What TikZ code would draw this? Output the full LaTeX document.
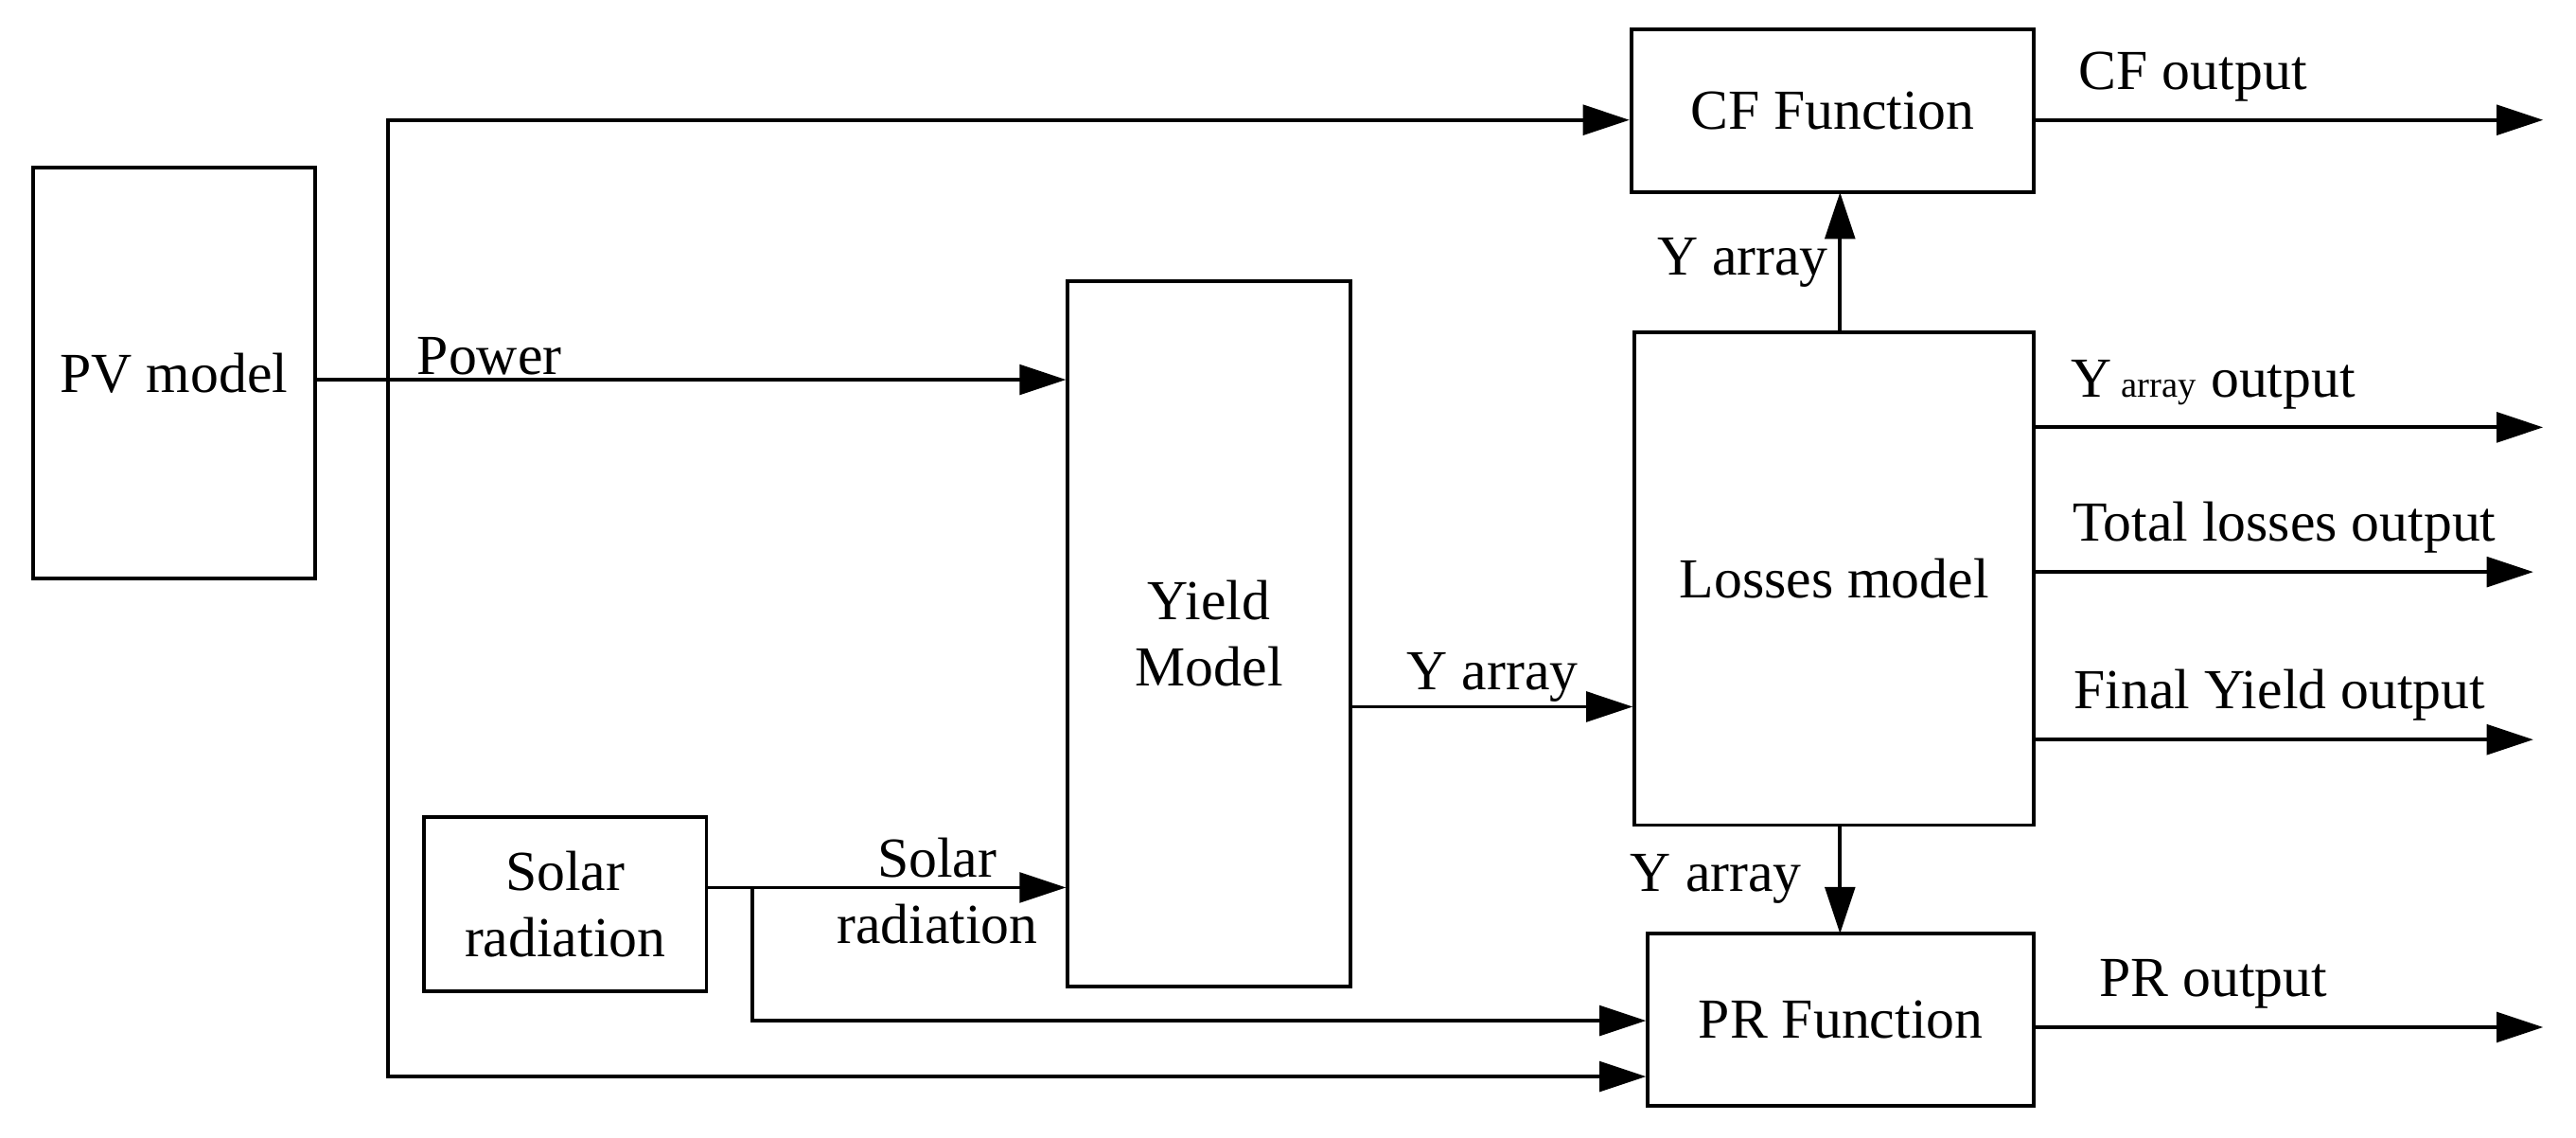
\documentclass[tikz,border=0pt]{standalone}
\usepackage{fontspec}
\setmainfont{Liberation Serif}
\usetikzlibrary{arrows.meta,positioning}

\begin{document}
\begin{tikzpicture}[x=0.01736cm, y=-0.01736cm, font=\fontsize{17}{20}\selectfont]
  \tikzstyle{block} = [rectangle, draw, line width=1.1pt, inner sep=0pt, text centered, align=center]
  \tikzstyle{line} = [draw, line width=1.1pt, -{Triangle[length=14pt, width=9pt]}]
  \tikzstyle{lab} = [inner sep=1pt, align=center]
  \useasboundingbox (0,0) rectangle (1568,692);
  % Place nodes
  \node [block, minimum width=172*0.01736cm, minimum height=250*0.01736cm] (pv) at (106,227) {PV model};
  \node [block, minimum width=172*0.01736cm, minimum height=429*0.01736cm] (yield) at (736,385.5) {Yield\\Model};
  \node [block, minimum width=172*0.01736cm, minimum height=106*0.01736cm] (solar) at (344,550) {Solar\\radiation};
  \node [block, minimum width=245*0.01736cm, minimum height=99*0.01736cm] (cf) at (1115.5,67.5) {CF Function};
  \node [block, minimum width=243*0.01736cm, minimum height=300*0.01736cm] (loss) at (1116.5,352) {Losses model};
  \node [block, minimum width=235*0.01736cm, minimum height=105*0.01736cm] (pr) at (1120.5,620.5) {PR Function};
  \coordinate (split) at (236,231);
  \coordinate (ssplit) at (458,540);
  \coordinate (o-cf) at (1548,73);
  \coordinate (o-y) at (1548,260);
  \coordinate (o-tl) at (1542,348);
  \coordinate (o-fy) at (1542,450);
  \coordinate (o-pr) at (1548,625);

  \path [line] (pv.east|-split) -- (yield.west|-split) node [lab, pos=0.23, above] {Power};
  \path [line] (split) |- (cf.west|-0,73);
  \path [line] (split) |- (pr.west|-0,655);
  \path [line] (yield.east|-0,430) -- (loss.west|-0,430) node [lab, midway, above] {Y array};
  \path [line] (solar.east|-ssplit) -- (yield.west|-ssplit) node [lab, pos=0.64, yshift=-1pt] {Solar\\radiation};
  \path [line] (ssplit) |- (pr.west|-0,621);
  \path [line] (1120,202) -- (1120,117) node [lab, midway, left=2pt] {Y array};
  \path [line] (1120,502) -- (1120,568) node [lab, midway, left=10pt] {Y array};
  \path [line] (cf.east|-o-cf) -- (o-cf) node [lab, pos=0.31, above=4pt] {CF output};
  \path [line] (loss.east|-o-y) -- (o-y) node [lab, pos=0.35, above=4pt] {Y\,{\fontsize{11}{13}\selectfont array} output};
  \path [line] (loss.east|-o-tl) -- (o-tl) node [lab, pos=0.5, above=4pt] {Total losses output};
  \path [line] (loss.east|-o-fy) -- (o-fy) node [lab, pos=0.49, above=4pt] {Final Yield output};
  \path [line] (pr.east|-o-pr) -- (o-pr) node [lab, pos=0.35, above=4pt] {PR output};
\end{tikzpicture}
\end{document}
